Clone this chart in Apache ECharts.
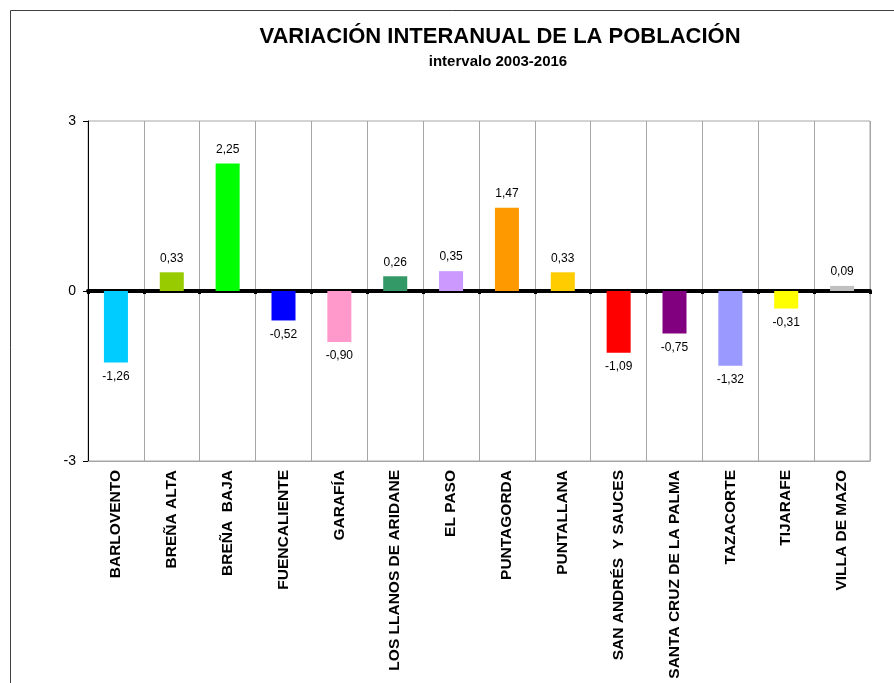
<!DOCTYPE html>
<html>
<head>
<meta charset="utf-8">
<script src="https://cdn.jsdelivr.net/npm/echarts@6/dist/echarts.min.js"></script>
<style>
  html, body { margin: 0; padding: 0; background: #fff; }
  #chart { width: 894px; height: 683px; }
</style>
</head>
<body>
<div id="chart"></div>
<script>
var municipios = ['BARLOVENTO', 'BREÑA ALTA', 'BREÑA  BAJA', 'FUENCALIENTE', 'GARAFÍA',
  'LOS LLANOS DE ARIDANE', 'EL PASO', 'PUNTAGORDA', 'PUNTALLANA', 'SAN ANDRÉS  Y SAUCES',
  'SANTA CRUZ DE LA PALMA', 'TAZACORTE', 'TIJARAFE', 'VILLA DE MAZO'];
var variacion = [-1.26, 0.33, 2.25, -0.52, -0.90, 0.26, 0.35, 1.47, 0.33, -1.09, -0.75, -1.32, -0.31, 0.09];
var colores = ['#00ccff', '#99cc00', '#00ff00', '#0000ff', '#ff99cc', '#339966', '#cc99ff',
  '#ff9900', '#ffcc00', '#ff0000', '#800080', '#9999ff', '#ffff00', '#c0c0c0'];
var yTicks = [-3, 0, 3];

var FONT = '"Liberation Sans", Arial, sans-serif';

var datos = [];
for (var i = 0; i < variacion.length; i++) {
  datos.push({
    value: variacion[i],
    itemStyle: { color: colores[i] },
    label: { position: variacion[i] >= 0 ? 'top' : 'bottom' }
  });
}

var chart = echarts.init(document.getElementById('chart'));
chart.setOption({
  animation: false,
  title: [{
    text: 'VARIACIÓN INTERANUAL DE LA POBLACIÓN',
    left: 495, top: 21, textAlign: 'center',
    textStyle: { fontFamily: FONT, fontSize: 22, fontWeight: 'bold', color: '#000' }
  }, {
    text: 'intervalo 2003-2016',
    left: 493, top: 49, textAlign: 'center',
    textStyle: { fontFamily: FONT, fontSize: 15, fontWeight: 'bold', color: '#000' }
  }],
  graphic: [{
    type: 'rect',
    shape: { x: 10.5, y: 10.5, width: 1000, height: 1000 },
    style: { fill: 'none', stroke: '#404040', lineWidth: 1 },
    silent: true
  }],
  grid: {
    left: 88, right: 24, top: 121, bottom: 222,
    show: true, borderColor: '#a6a6a6', borderWidth: 1
  },
  xAxis: [{
    type: 'category',
    data: municipios,
    position: 'bottom',
    axisLine: { onZero: false, lineStyle: { color: '#a6a6a6', width: 1 } },
    axisTick: { show: false },
    splitLine: { show: true, interval: 0, lineStyle: { color: '#a6a6a6', width: 1 } },
    axisLabel: {
      interval: 0, rotate: 90, margin: 9,
      fontFamily: FONT, fontSize: 15.5, fontWeight: 'bold', color: '#000'
    }
  }, {
    type: 'category',
    data: municipios,
    position: 'bottom',
    axisLine: { onZero: true, lineStyle: { color: '#000', width: 4 } },
    axisTick: { show: true, interval: 0, length: 3, inside: false, lineStyle: { color: '#000', width: 3 } },
    axisLabel: { show: false },
    splitLine: { show: false }
  }],
  yAxis: {
    type: 'value',
    min: yTicks[0], max: yTicks[yTicks.length - 1], interval: 3,
    axisLine: { show: true, lineStyle: { color: '#000', width: 1 } },
    axisTick: { show: true, length: 5, lineStyle: { color: '#000' } },
    splitLine: { show: false },
    axisLabel: { margin: 12, fontFamily: FONT, fontSize: 14, color: '#000' }
  },
  series: [{
    type: 'bar',
    xAxisIndex: 0,
    data: datos,
    barWidth: '43%',
    label: {
      show: true, distance: 8,
      fontFamily: FONT, fontSize: 12, color: '#000',
      formatter: function (p) { return p.value.toFixed(2).replace('.', ','); }
    }
  }]
});
</script>
</body>
</html>
